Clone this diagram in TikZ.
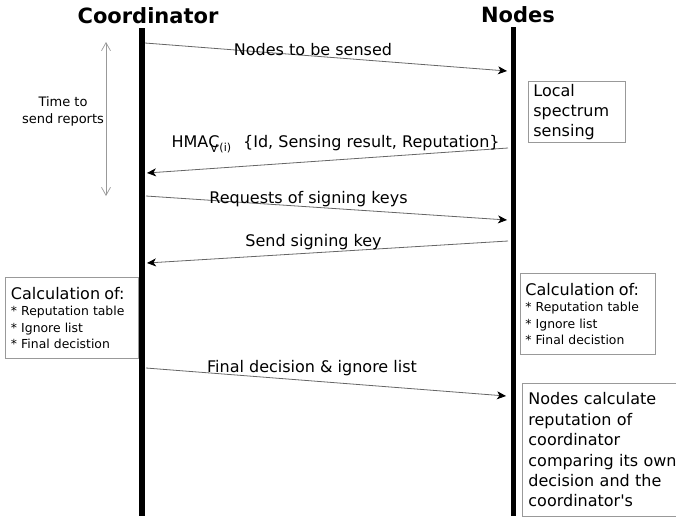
\documentclass[tikz,border=0pt]{standalone}
\usepackage{fontspec}
\setmainfont{DejaVu Sans}
\usetikzlibrary{arrows.meta}

\begin{document}
\begin{tikzpicture}[x=1pt,y=-1pt,
	lifeline/.style={line width=5.5pt},
	msg/.style={draw=black!60,line width=0.8pt,-{Stealth[length=9pt,width=8pt,inset=2.5pt,color=black]}},
	msglabel/.style={anchor=base,font=\fontsize{16}{20}\selectfont},
	title/.style={anchor=base,font=\fontsize{21}{25}\selectfont\bfseries},
	note/.style={draw=black!40,line width=0.8pt,align=left,anchor=north west,inner ysep=1pt},
	timespan/.style={draw=black!40,line width=0.7pt,{Straight Barb[length=8pt,width=9pt]}-{Straight Barb[length=8pt,width=9pt]}}
	]
	\useasboundingbox (0,0) rectangle (676,520);
	\node[title] (coord) at (148,23){Coordinator};
	\node[title] (nodes) at (518,22){Nodes};
	\coordinate (ctop) at (142,28);
	\coordinate (cbot) at (142,516);
	\coordinate (ntop) at (513.5,27);
	\coordinate (nbot) at (513.5,516);
	\draw[lifeline] (ctop) -- (cbot);
	\draw[lifeline] (ntop) -- (nbot);
	\coordinate (ttop) at (106,42);
	\coordinate (tbot) at (106,196);
	\draw[timespan] (ttop) -- (tbot);
	\node[font=\fontsize{13}{17}\selectfont,align=center] (time) at (63,111){Time to\\send reports};
	\coordinate (c1) at (145,43);
	\coordinate (n1) at (507,71);
	\coordinate (n2) at (508,148);
	\coordinate (c2) at (147,173);
	\coordinate (c3) at (146,196);
	\coordinate (n3) at (507,220);
	\coordinate (n4) at (508,241);
	\coordinate (c4) at (147,263);
	\coordinate (c5) at (146,368);
	\coordinate (n5) at (506,396);
	\draw[msg] (c1) -- (n1);
	\draw[msg] (n2) -- (c2);
	\draw[msg] (c3) -- (n3);
	\draw[msg] (n4) -- (c4);
	\draw[msg] (c5) -- (n5);
	\node[msglabel] (m1) at (313,55){Nodes to be sensed};
	\node[msglabel,anchor=base west] (m2) at (168,147){HMA\rlap{\hspace{2pt}\raisebox{-5pt}{\fontsize{11}{11}\selectfont V}}C\raisebox{-4pt}{\fontsize{11}{11}\selectfont(i)}\hspace{12pt}\{Id, Sensing result, Reputation\}};
	\node[msglabel] (m3) at (308.5,203){Requests of signing keys};
	\node[msglabel] (m4) at (313.5,246){Send signing key};
	\node[msglabel] (m5) at (312,372){Final decision \& ignore list};
	\node[note,text width=87pt,inner xsep=5pt,minimum height=61pt,font=\fontsize{16}{20}\selectfont] (sense) at (528,81){Local\\spectrum\\sensing};
	\node[note,text width=122pt,inner xsep=5.5pt,minimum height=81pt,font=\fontsize{12.4}{16.5}\selectfont] (calcc) at (5,277){{\fontsize{16}{16.5}\selectfont Calculation of:}\\ {*} Reputation table\\ {*} Ignore list\\ {*} Final decistion};
	\node[note,text width=125pt,inner xsep=5pt,minimum height=81pt,font=\fontsize{12.4}{16.5}\selectfont] (calcn) at (520,273){{\fontsize{16}{16.5}\selectfont Calculation of:}\\ {*} Reputation table\\ {*} Ignore list\\ {*} Final decistion};
	\node[note,text width=160pt,inner xsep=6pt,minimum height=133pt,font=\fontsize{16}{20.4}\selectfont] (reput) at (522,383){Nodes calculate\\reputation of\\coordinator\\comparing its own\\decision and the\\coordinator\textquotesingle s};
\end{tikzpicture}
\end{document}
